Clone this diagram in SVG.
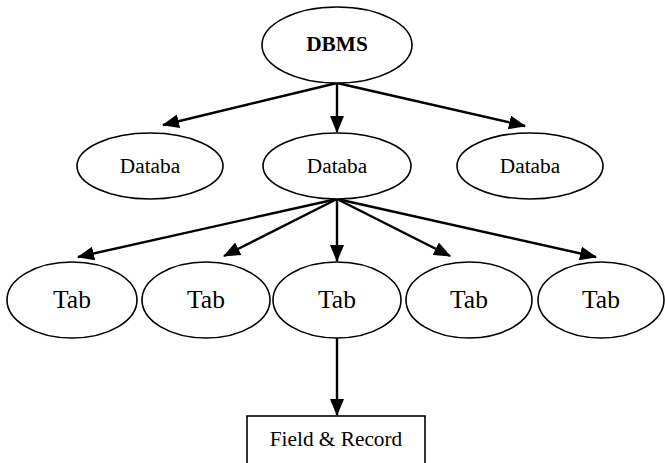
<svg xmlns="http://www.w3.org/2000/svg" width="665" height="463" viewBox="0 0 665 463">
  <style>
    .node ellipse, .node rect { fill: #ffffff; stroke: #000000; stroke-width: 1.6; }
    .edge { stroke: #000000; stroke-width: 2.4; fill: none; marker-end: url(#arrow); }
    .lbl { font-family: "Liberation Serif", "Times New Roman", serif; fill: #000000; text-anchor: middle; }
    .db { font-size: 21.3px; }
    .top { font-size: 21.3px; font-weight: bold; }
    .tab { font-size: 25.5px; }
  </style>
  <defs>
    <marker id="arrow" markerUnits="userSpaceOnUse" markerWidth="18" markerHeight="14" refX="16" refY="7" orient="auto">
      <path d="M0,0 L17,7 L0,14 z" fill="#000000"/>
    </marker>
  </defs>
  <rect width="665" height="463" fill="#ffffff"/>

  <!-- connectors -->
  <g id="connectors">
    <line class="edge" x1="337" y1="83" x2="163" y2="125"/>
    <line class="edge" x1="337" y1="83" x2="337" y2="132"/>
    <line class="edge" x1="337" y1="83" x2="525" y2="126"/>
    <line class="edge" x1="337" y1="199" x2="78" y2="257"/>
    <line class="edge" x1="337" y1="199" x2="224" y2="256"/>
    <line class="edge" x1="337" y1="199" x2="337" y2="261"/>
    <line class="edge" x1="337" y1="199" x2="450" y2="256"/>
    <line class="edge" x1="337" y1="199" x2="596" y2="257"/>
    <line class="edge" x1="337" y1="338" x2="337" y2="415"/>
  </g>

  <g id="dbms" class="node">
    <ellipse cx="337" cy="45" rx="75" ry="38"/>
    <text class="lbl top" x="337" y="51">DBMS</text>
  </g>

  <g id="database-left" class="node">
    <ellipse cx="150" cy="166" rx="73" ry="33"/>
    <text class="lbl db" x="150" y="173">Databa</text>
  </g>
  <g id="database-mid" class="node">
    <ellipse cx="337" cy="166" rx="74" ry="33"/>
    <text class="lbl db" x="337" y="173">Databa</text>
  </g>
  <g id="database-right" class="node">
    <ellipse cx="530" cy="166" rx="73" ry="33"/>
    <text class="lbl db" x="530" y="173">Databa</text>
  </g>

  <g id="table-1" class="node">
    <ellipse cx="72" cy="300" rx="65" ry="38"/>
    <text class="lbl tab" x="72" y="308">Tab</text>
  </g>
  <g id="table-2" class="node">
    <ellipse cx="206" cy="300" rx="64" ry="38"/>
    <text class="lbl tab" x="206" y="308">Tab</text>
  </g>
  <g id="table-3" class="node">
    <ellipse cx="337" cy="300" rx="64" ry="38"/>
    <text class="lbl tab" x="337" y="308">Tab</text>
  </g>
  <g id="table-4" class="node">
    <ellipse cx="469" cy="300" rx="63" ry="38"/>
    <text class="lbl tab" x="469" y="308">Tab</text>
  </g>
  <g id="table-5" class="node">
    <ellipse cx="601" cy="300" rx="63" ry="38"/>
    <text class="lbl tab" x="601" y="308">Tab</text>
  </g>

  <g id="field-record" class="node">
    <rect x="247" y="416" width="178" height="60"/>
    <text class="lbl db" x="336" y="446">Field &amp; Record</text>
  </g>
</svg>
